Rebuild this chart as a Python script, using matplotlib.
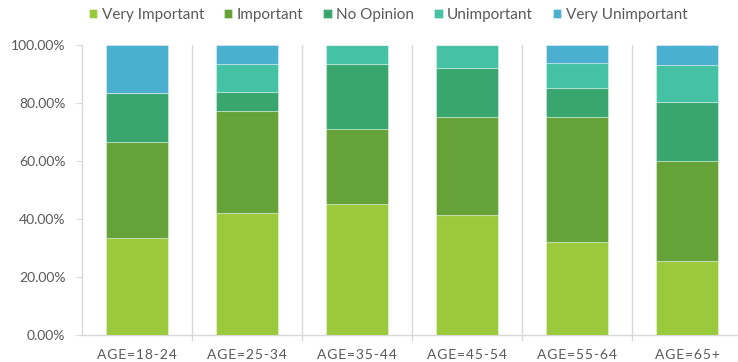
import matplotlib
matplotlib.use("Agg")
import matplotlib.pyplot as plt
import numpy as np
from matplotlib.ticker import FuncFormatter, FixedLocator

categories = ["AGE=18-24", "AGE=25-34", "AGE=35-44", "AGE=45-54", "AGE=55-64", "AGE=65+"]
series_names = ["Very Important", "Important", "No Opinion", "Unimportant", "Very Unimportant"]
very_important = [33.3, 41.9, 45.2, 41.5, 32.0, 25.5]
important = [33.3, 35.5, 25.8, 33.8, 43.1, 34.4]
no_opinion = [16.7, 6.5, 22.6, 16.9, 10.2, 20.3]
unimportant = [0.0, 9.7, 6.4, 7.8, 8.5, 13.0]
very_unimportant = [16.7, 6.4, 0.0, 0.0, 6.2, 6.8]
colors = ["#9ACA3C", "#65A338", "#38A66E", "#45C2A4", "#4BB0D0"]

plt.rcParams['font.family'] = ['Lato', 'DejaVu Sans']
txt = "#595959"

fig = plt.figure(figsize=(7.38, 3.62), dpi=100)
W, H = 738, 362
left, right, top, bottom = 82, 742, 45, 335
ax = fig.add_axes([left / W, (H - bottom) / H, (right - left) / W, (bottom - top) / H])

data = [very_important, important, no_opinion, unimportant, very_unimportant]
x = np.arange(len(categories))
base = np.zeros(len(categories))
handles = []
for name, vals, c in zip(series_names, data, colors):
    v = np.array(vals) / 100.0
    b = ax.bar(x, v, bottom=base, width=0.56, color=c, edgecolor=(1, 1, 1, 0.35), linewidth=0.8, label=name, zorder=3)
    handles.append(b)
    base += v

ax.set_xlim(-0.5, len(categories) - 0.5)
ax.set_ylim(0, 1)
ax.yaxis.set_major_locator(FixedLocator([0, 0.2, 0.4, 0.6, 0.8, 1.0]))
ax.yaxis.set_major_formatter(FuncFormatter(lambda v, p: f"{v*100:.2f}%"))
ax.tick_params(axis='y', length=4, width=0.8, color="#d9d9d9", labelcolor=txt, labelsize=10, pad=8)

ax.set_xticks(x)
spaced = ["\u200a".join(list(c)) for c in categories]
ax.set_xticklabels(spaced)
ax.tick_params(axis='x', which='major', length=0, labelcolor=txt, labelsize=10, pad=10)
seps = np.arange(0.5, len(categories) - 0.5, 1.0)
ax.set_xticks(seps, minor=True)
ax.tick_params(axis='x', which='minor', length=4, width=1, color="#d9d9d9")
for s in seps:
    ax.axvline(s, color="#d9d9d9", lw=1, zorder=1)

for sp in ["top", "right"]:
    ax.spines[sp].set_visible(False)
for sp in ["left", "bottom"]:
    ax.spines[sp].set_color("#d9d9d9")
    ax.spines[sp].set_linewidth(1)

leg = fig.legend(handles=handles, labels=series_names, loc="center", bbox_to_anchor=(388 / W, 1 - 15 / H),
                 ncol=5, frameon=False, handlelength=0.55, handleheight=0.55, handletextpad=0.3,
                 columnspacing=1.3, fontsize=11)
for t in leg.get_texts():
    t.set_color(txt)

fig.savefig("out.png", dpi=100)
